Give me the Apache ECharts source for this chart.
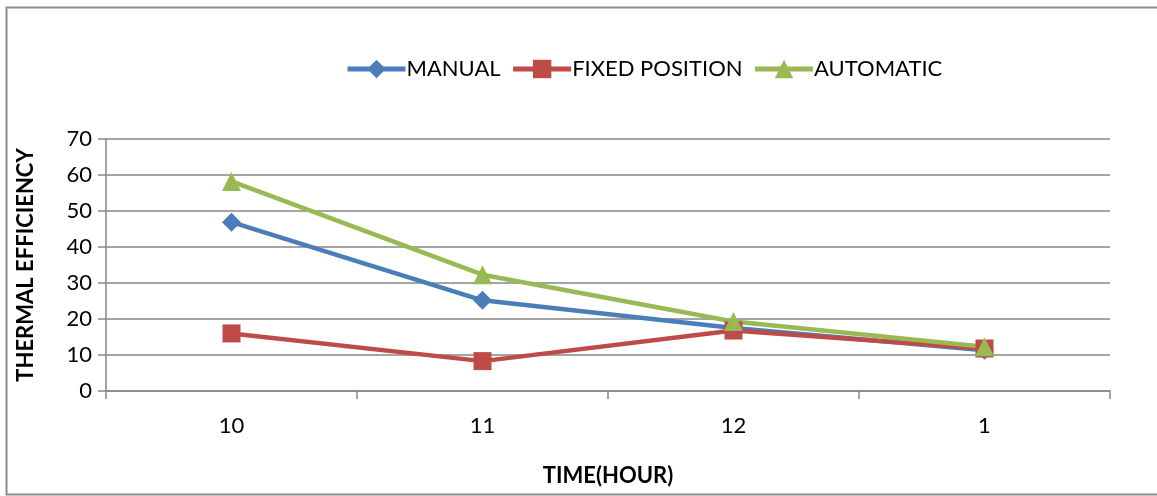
<!DOCTYPE html>
<html lang="en">
  <head>
    <meta charset="UTF-8" />
    <script src="https://cdn.jsdelivr.net/npm/echarts@6/dist/echarts.min.js"></script>
    <title>Thermal efficiency</title>
    <style>
      html, body { margin: 0; padding: 0; background: #fff; }
      #app { width: 1157px; height: 496px; }
    </style>
  </head>
  <body>
    <div id="app"></div>
    <script>
      const hours = ["10", "11", "12", "1"];
      const manual = [46.9, 25.2, 17.5, 11.3];
      const fixedPos = [16.0, 8.3, 16.8, 11.8];
      const automatic = [58.2, 32.3, 19.3, 12.3];

      const font = "Lato, 'Open Sans', sans-serif";
      const chart = echarts.init(document.getElementById("app"));

      const line = (name, data, color, symbol, size) => ({
        name: name,
        type: "line",
        data: data,
        symbol: symbol,
        symbolSize: size,
        color: color,
        lineStyle: { width: 4.5, color: color },
        itemStyle: { color: color },
      });

      chart.setOption({
        animation: false,
        textStyle: { fontFamily: font },
        graphic: [
          {
            type: "rect",
            shape: { x: 6.5, y: 7.5, width: 1170, height: 487 },
            style: { fill: null, stroke: "#8c8c8c", lineWidth: 2 },
            silent: true,
          },
        ],
        legend: {
          top: 53,
          left: 340,
          itemWidth: 58,
          itemHeight: 23,
          itemGap: 10,
          lineStyle: { width: 5 },
          textStyle: { fontSize: 22, color: "#000", fontFamily: font, padding: [0, 0, 0, -4] },
          data: ["MANUAL", "FIXED POSITION", "AUTOMATIC"],
        },
        grid: { left: 106, right: 47, top: 139, bottom: 105 },
        xAxis: {
          type: "category",
          data: hours,
          name: "TIME(HOUR)",
          nameLocation: "middle",
          nameGap: 74,
          nameTextStyle: { fontSize: 22, fontWeight: "bold", color: "#000" },
          axisLine: { lineStyle: { color: "#868686", width: 1.5 } },
          axisTick: { show: true, length: 8, lineStyle: { color: "#868686", width: 1.5 } },
          axisLabel: { fontSize: 22, color: "#000", margin: 24 },
        },
        yAxis: {
          type: "value",
          min: 0,
          max: 70,
          interval: 10,
          name: "THERMAL EFFICIENCY",
          nameLocation: "middle",
          nameGap: 69,
          nameTextStyle: { fontSize: 22, fontWeight: "bold", color: "#000" },
          axisLine: { show: true, lineStyle: { color: "#868686", width: 1.5 } },
          axisTick: { show: true, length: 8, lineStyle: { color: "#868686", width: 1.5 } },
          axisLabel: { fontSize: 22, color: "#000", margin: 14 },
          splitLine: { lineStyle: { color: "#868686", width: 1.5 } },
        },
        series: [
          line("MANUAL", manual, "#4a7ebb", "diamond", 19),
          line("FIXED POSITION", fixedPos, "#be4b48", "rect", 18),
          line("AUTOMATIC", automatic, "#98b954", "triangle", 19),
        ],
      });
    </script>
  </body>
</html>
